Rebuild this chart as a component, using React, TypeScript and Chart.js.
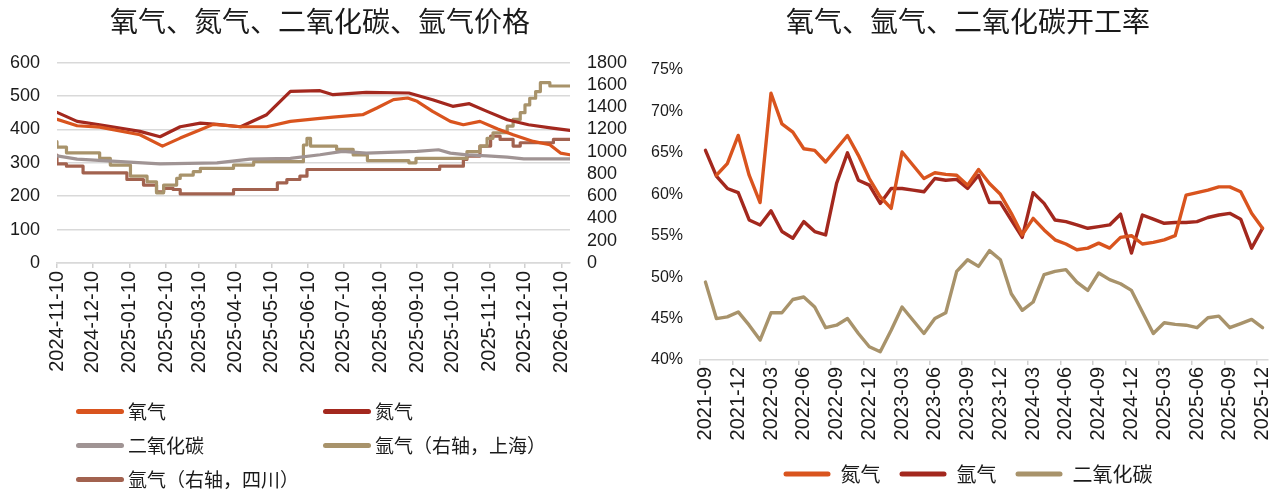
import React, { useEffect, useRef } from 'react';
import { Chart, registerables } from 'chart.js';

Chart.register(...registerables);

// ---------------- Left chart: prices ----------------
const PRICE_TITLE = '氧气、氮气、二氧化碳、氩气价格';
const priceStart = '2024-11-10';
const priceEnd = '2026-01-17';
const priceTickDates = [
  '2024-11-10', '2024-12-10', '2025-01-10', '2025-02-10', '2025-03-10',
  '2025-04-10', '2025-05-10', '2025-06-10', '2025-07-10', '2025-08-10',
  '2025-09-10', '2025-10-10', '2025-11-10', '2025-12-10', '2026-01-10',
];
const priceLabels = ['氧气', '氮气', '二氧化碳', '氩气（右轴，上海）', '氩气（右轴，四川）'];
const priceColors = ['#D9541E', '#A3281E', '#A09494', '#A8936B', '#A2624F'];

const oxygenDates = [
  '2024-11-10', '2024-11-27', '2024-12-16', '2025-01-19', '2025-02-07', '2025-02-22',
  '2025-03-11', '2025-03-22', '2025-04-14', '2025-05-06', '2025-05-26', '2025-06-20',
  '2025-07-01', '2025-07-26', '2025-08-07', '2025-08-21', '2025-09-02', '2025-09-10',
  '2025-09-23', '2025-10-08', '2025-10-19', '2025-11-02', '2025-11-17', '2025-11-30',
  '2025-12-17', '2025-12-31', '2026-01-09', '2026-01-17',
];
const oxygenPrice = [
  430, 411, 407, 384, 350, 374,
  399, 415, 408, 408, 424, 433,
  437, 444, 464, 489, 494, 484,
  454, 424, 414, 424, 401, 384,
  364, 354, 329, 324,
];

const nitrogenDates = [
  '2024-11-10', '2024-11-27', '2024-12-16', '2025-01-19', '2025-02-05', '2025-02-22',
  '2025-03-11', '2025-03-25', '2025-04-14', '2025-05-06', '2025-05-26', '2025-06-20',
  '2025-07-01', '2025-07-29', '2025-09-03', '2025-09-23', '2025-10-10', '2025-10-24',
  '2025-11-08', '2025-11-25', '2025-12-13', '2026-01-02', '2026-01-17',
];
const nitrogenPrice = [
  451, 424, 414, 394, 378, 408,
  419, 415, 408, 444, 514, 516,
  504, 511, 509, 489, 469, 477,
  454, 429, 414, 404, 397,
];

const co2Dates = [
  '2024-11-10', '2024-11-27', '2025-02-05', '2025-03-25', '2025-04-22', '2025-05-26',
  '2025-06-20', '2025-07-09', '2025-07-29', '2025-09-10', '2025-09-28', '2025-10-08',
  '2025-10-22', '2025-11-08', '2025-11-25', '2025-12-09', '2026-01-17',
];
const co2Price = [
  321, 311, 297, 300, 311, 313,
  324, 334, 329, 334, 339, 329,
  324, 321, 317, 312, 312,
];

const argonShDates = [
  '2024-11-10', '2024-11-18', '2024-12-16', '2024-12-25', '2025-01-11', '2025-01-25',
  '2025-02-02', '2025-02-08', '2025-02-19', '2025-02-22', '2025-03-05', '2025-03-11',
  '2025-04-08', '2025-04-25', '2025-06-06', '2025-06-09', '2025-06-12', '2025-07-04',
  '2025-07-18', '2025-07-30', '2025-09-03', '2025-09-09', '2025-10-22', '2025-11-02',
  '2025-11-08', '2025-11-13', '2025-11-25', '2025-11-30', '2025-12-06', '2025-12-10',
  '2025-12-14', '2025-12-19', '2025-12-23', '2025-12-31', '2026-01-06', '2026-01-17',
];
const argonShPrice = [
  1090, 1040, 990, 940, 880, 780,
  730, 630, 700, 760, 790, 820,
  850, 880, 910, 1060, 1120, 1050,
  1020, 970, 920, 900, 940, 1000,
  1050, 1120, 1170, 1230, 1290, 1350,
  1420, 1480, 1540, 1620, 1590, 1590,
];

const argonScDates = [
  '2024-11-10', '2024-11-18', '2024-12-02', '2025-01-08', '2025-01-22', '2025-02-02',
  '2025-02-08', '2025-02-16', '2025-02-22', '2025-04-08', '2025-05-15', '2025-05-23',
  '2025-06-03', '2025-06-09', '2025-09-29', '2025-10-19', '2025-10-22', '2025-11-02',
  '2025-11-11', '2025-11-19', '2025-11-30', '2025-12-06', '2026-01-03', '2026-01-11',
  '2026-01-17',
];
const argonScPrice = [
  970, 890, 870, 810, 750, 700,
  640, 670, 660, 620, 660, 720,
  750, 780, 840, 870, 930, 960,
  1050, 1140, 1110, 1050, 1080, 1110,
  1110,
];

// ---------------- Right chart: operating rates ----------------
const RATE_TITLE = '氧气、氩气、二氧化碳开工率';
const rateMonths = [
  '2021-09', '2021-10', '2021-11', '2021-12', '2022-01', '2022-02', '2022-03', '2022-04',
  '2022-05', '2022-06', '2022-07', '2022-08', '2022-09', '2022-10', '2022-11', '2022-12',
  '2023-01', '2023-02', '2023-03', '2023-04', '2023-05', '2023-06', '2023-07', '2023-08',
  '2023-09', '2023-10', '2023-11', '2023-12', '2024-01', '2024-02', '2024-03', '2024-04',
  '2024-05', '2024-06', '2024-07', '2024-08', '2024-09', '2024-10', '2024-11', '2024-12',
  '2025-01', '2025-02', '2025-03', '2025-04', '2025-05', '2025-06', '2025-07', '2025-08',
  '2025-09', '2025-10', '2025-11', '2025-12',
];
const rateLabels = ['氮气', '氩气', '二氧化碳'];
const rateColors = ['#D9541E', '#A3281E', '#A8936B'];
const nitrogenRate = [
  null, 62.3, 63.7, 67.1, 62.3, 59.0, 72.2, 68.5, 67.5, 65.5, 65.3, 63.9, 65.5,
  67.1, 64.7, 61.9, 59.7, 58.3, 65.1, 63.5, 61.9, 62.6, 62.4, 62.3, 61.1, 63.0,
  61.3, 60.0, 57.7, 55.1, 57.1, 55.7, 54.5, 54.0, 53.3, 53.5, 54.1, 53.5, 54.8,
  55.0, 54.0, 54.2, 54.5, 55.0, 59.9, 60.2, 60.5, 60.9, 60.9, 60.3, 57.7, 55.9,
];
const argonRate = [
  65.3, 62.2, 60.7, 60.2, 56.9, 56.3, 58.0, 55.5, 54.7, 56.7, 55.5, 55.1, 61.3,
  65.0, 61.7, 61.1, 58.9, 60.7, 60.7, 60.5, 60.3, 61.9, 61.7, 61.8, 60.7, 62.3,
  59.0, 59.0, 56.9, 54.8, 60.2, 58.9, 56.9, 56.7, 56.3, 55.9, 56.1, 56.3, 57.6,
  52.9, 57.5, 57.0, 56.5, 56.6, 56.6, 56.7, 57.2, 57.5, 57.7, 57.0, 53.5, 55.9,
];
const co2Rate = [
  49.4, 45.0, 45.2, 45.8, 44.2, 42.4, 45.7, 45.7, 47.3, 47.6, 46.4, 43.9, 44.2,
  45.0, 43.2, 41.6, 41.0, 43.6, 46.4, 44.8, 43.2, 45.0, 45.7, 50.7, 52.1, 51.3,
  53.2, 52.1, 48.0, 46.0, 47.0, 50.3, 50.7, 50.9, 49.4, 48.4, 50.5, 49.7, 49.2,
  48.4, 45.8, 43.2, 44.5, 44.3, 44.2, 43.9, 45.1, 45.3, 43.9, 44.4, 44.9, 43.9,
];

// ---------------- helpers ----------------
const CJK = '"Noto Sans CJK SC", "Noto Sans", sans-serif';
const NUM = '"Liberation Sans", Arial, sans-serif';
const TEXT = '#1a1a1a';

const dayOf = (s: string) => {
  const [y, m, d] = s.split('-').map(Number);
  const [y0, m0, d0] = priceStart.split('-').map(Number);
  return Math.round((Date.UTC(y, m - 1, d) - Date.UTC(y0, m0 - 1, d0)) / 86400000);
};
const pts = (dates: string[], vals: number[]) => dates.map((d, i) => ({ x: dayOf(d), y: vals[i] }));
const priceTickDays = priceTickDates.map(dayOf);

function PriceChart() {
  const ref = useRef<HTMLCanvasElement>(null);
  useEffect(() => {
    const series = [
      { dates: oxygenDates, vals: oxygenPrice, axis: 'y', stepped: false },
      { dates: nitrogenDates, vals: nitrogenPrice, axis: 'y', stepped: false },
      { dates: co2Dates, vals: co2Price, axis: 'y', stepped: false },
      { dates: argonShDates, vals: argonShPrice, axis: 'y1', stepped: true },
      { dates: argonScDates, vals: argonScPrice, axis: 'y1', stepped: true },
    ];
    const chart = new Chart(ref.current as HTMLCanvasElement, {
      type: 'line',
      data: {
        datasets: series.map((s, i) => ({
          label: priceLabels[i],
          data: pts(s.dates, s.vals),
          borderColor: priceColors[i],
          backgroundColor: priceColors[i],
          yAxisID: s.axis,
          stepped: s.stepped ? 'after' : false,
        })) as any,
      },
      options: {
        animation: false,
        responsive: false,
        devicePixelRatio: 1,
        layout: { padding: 0 },
        elements: {
          line: { tension: 0, borderWidth: 3.2, borderCapStyle: 'round', borderJoinStyle: 'round', fill: false },
          point: { radius: 0, hoverRadius: 0 },
        },
        plugins: {
          legend: { display: false },
          tooltip: { enabled: false },
          title: {
            display: true,
            text: PRICE_TITLE,
            color: TEXT,
            font: { family: CJK, size: 28, weight: 'normal' },
            padding: { top: 5, bottom: 24 },
          },
        },
        scales: {
          x: {
            type: 'linear',
            min: 0,
            max: dayOf(priceEnd),
            afterBuildTicks: (s: any) => {
              s.ticks = priceTickDays.map((v) => ({ value: v }));
            },
            afterFit: (s: any) => {
              s.height = 137;
              s.paddingLeft = 0;
              s.paddingRight = 0;
            },
            ticks: {
              autoSkip: false,
              minRotation: 90,
              maxRotation: 90,
              padding: 3,
              color: TEXT,
              font: { family: NUM, size: 20 },
              callback: (v: any) => {
                const i = priceTickDays.indexOf(Number(v));
                return i >= 0 ? priceTickDates[i] : '';
              },
            },
            grid: { drawOnChartArea: false, drawTicks: true, tickLength: 5, color: '#d0d0d0', lineWidth: 1.5 },
            border: { display: true, color: '#d9d9d9', width: 1.5 },
          },
          y: {
            position: 'left',
            min: 0,
            max: 600,
            afterFit: (s: any) => {
              s.width = 57;
            },
            ticks: {
              stepSize: 100,
              padding: 17,
              autoSkip: false,
              color: TEXT,
              font: { family: NUM, size: 18 },
              callback: (v: any) => String(v),
            },
            grid: { color: '#d9d9d9', lineWidth: 1.5, drawTicks: false },
            border: { display: false },
          },
          y1: {
            position: 'right',
            min: 0,
            max: 1800,
            afterFit: (s: any) => {
              s.width = 70;
            },
            ticks: {
              stepSize: 200,
              padding: 17,
              autoSkip: false,
              color: TEXT,
              font: { family: NUM, size: 18 },
              callback: (v: any) => String(v),
            },
            grid: { display: false, drawTicks: false },
            border: { display: false },
          },
        },
      } as any,
    });
    return () => chart.destroy();
  }, []);
  return (
    <canvas
      ref={ref}
      width={640}
      height={400}
      style={{ position: 'absolute', left: 0, top: 0, width: 640, height: 400 }}
    />
  );
}

function PriceLegend() {
  const spots = [
    { left: 76, top: 411 },
    { left: 323, top: 411 },
    { left: 76, top: 445 },
    { left: 323, top: 445 },
    { left: 76, top: 479 },
  ];
  return (
    <>
      {priceLabels.map((label, i) => (
        <div
          key={label}
          style={{
            position: 'absolute',
            left: spots[i].left,
            top: spots[i].top - 13,
            height: 26,
            display: 'flex',
            alignItems: 'center',
            whiteSpace: 'nowrap',
          }}
        >
          <div style={{ width: 48, height: 5, borderRadius: 3, background: priceColors[i], marginRight: 4 }} />
          <span style={{ fontFamily: CJK, fontSize: 19, color: TEXT, lineHeight: '26px' }}>{label}</span>
        </div>
      ))}
    </>
  );
}

function RateChart() {
  const ref = useRef<HTMLCanvasElement>(null);
  useEffect(() => {
    const values = [nitrogenRate, argonRate, co2Rate];
    const tickCol = (ctx: any) =>
      typeof ctx.index === 'number' && ctx.index % 3 === 0 ? '#d0d0d0' : 'rgba(0,0,0,0)';
    const chart = new Chart(ref.current as HTMLCanvasElement, {
      type: 'line',
      data: {
        labels: rateMonths,
        datasets: values.map((v, i) => ({
          label: rateLabels[i],
          data: v,
          borderColor: rateColors[i],
          backgroundColor: rateColors[i],
        })) as any,
      },
      options: {
        animation: false,
        responsive: false,
        devicePixelRatio: 1,
        layout: { padding: 0 },
        elements: {
          line: { tension: 0, borderWidth: 3.4, borderCapStyle: 'round', borderJoinStyle: 'round', fill: false },
          point: { radius: 0, hoverRadius: 0 },
        },
        plugins: {
          tooltip: { enabled: false },
          title: {
            display: true,
            text: RATE_TITLE,
            color: TEXT,
            font: { family: CJK, size: 28, weight: 'normal' },
            padding: { top: 5, bottom: 31.4 },
          },
          legend: {
            display: true,
            position: 'bottom',
            labels: {
              color: TEXT,
              font: { family: CJK, size: 20 },
              boxWidth: 47,
              boxHeight: 5,
              padding: 19,
              generateLabels: (c: any) =>
                (Chart.defaults.plugins.legend.labels.generateLabels as any)(c).map((l: any) => ({
                  ...l,
                  lineWidth: 0,
                  borderRadius: 2.5,
                })),
            },
          },
        },
        scales: {
          x: {
            type: 'category',
            offset: true,
            afterFit: (s: any) => {
              s.height = 85;
              s.paddingLeft = 0;
              s.paddingRight = 28;
            },
            ticks: {
              autoSkip: false,
              minRotation: 90,
              maxRotation: 90,
              padding: 2,
              color: TEXT,
              font: { family: NUM, size: 20 },
              callback: (_v: any, i: number) => (i % 3 === 0 ? rateMonths[i] : ''),
            },
            grid: {
              offset: true,
              drawOnChartArea: false,
              drawTicks: true,
              tickLength: 5,
              lineWidth: 1.5,
              color: tickCol,
              tickColor: tickCol,
            },
            border: { display: true, color: '#d9d9d9', width: 1.5 },
          },
          y: {
            min: 40,
            max: 75,
            afterFit: (s: any) => {
              s.width = 60;
            },
            ticks: {
              stepSize: 5,
              padding: 17,
              autoSkip: false,
              color: TEXT,
              font: { family: NUM, size: 16 },
              callback: (v: any) => String(Math.round(Number(v))) + '%',
            },
            grid: { display: false, drawTicks: false },
            border: { display: false },
          },
        },
      } as any,
    });
    return () => chart.destroy();
  }, []);
  return (
    <canvas
      ref={ref}
      width={656}
      height={494}
      style={{ position: 'absolute', left: 640, top: 0, width: 656, height: 494 }}
    />
  );
}

export default function App() {
  return (
    <div
      style={{
        position: 'fixed',
        left: 0,
        top: 0,
        width: 1279,
        height: 494,
        background: '#ffffff',
        overflow: 'hidden',
      }}
    >
      <PriceChart />
      <PriceLegend />
      <RateChart />
    </div>
  );
}
